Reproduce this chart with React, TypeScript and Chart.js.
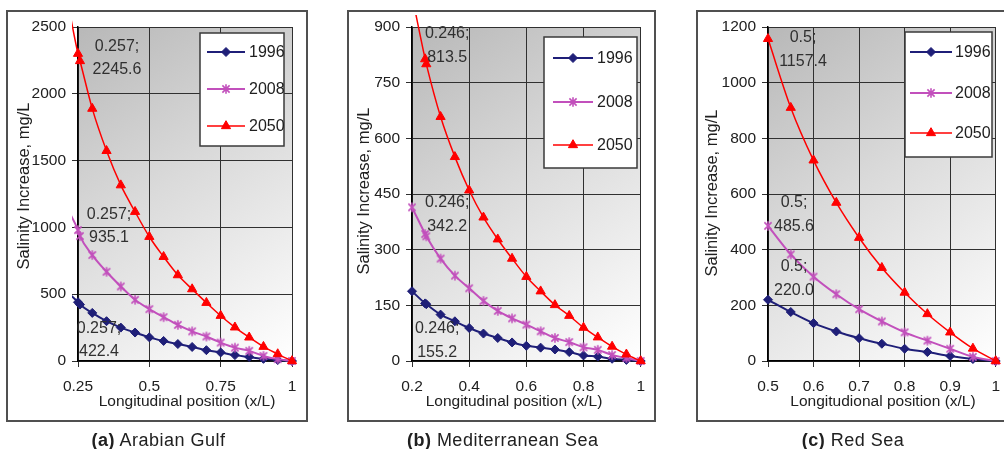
import React, { useEffect, useRef } from 'react';
import { Chart, registerables } from 'chart.js';

Chart.register(...registerables);

const FONT = "'Liberation Sans', Arial, Helvetica, sans-serif";

const seriesNames = ['1996', '2008', '2050'];
const seriesColors = ['#1f1f78', '#c250bc', '#ff0000'];
const seriesLineWidths = [2, 2, 1.5];

// ---------- (a) Arabian Gulf ----------
const xA = [0.2, 0.25, 0.257, 0.3, 0.35, 0.4, 0.45, 0.5, 0.55, 0.6, 0.65, 0.7, 0.75, 0.8, 0.85, 0.9, 0.95, 1];
const a1996 = [540, 440, 422.4, 360, 298, 250, 213, 177, 150, 127, 105, 81, 64, 44, 30, 16, 7, 0];
const a2008 = [1190, 980, 935.1, 793, 668, 558, 458, 388, 328, 270, 222, 183, 138, 100, 76, 38, 14, 0];
const a2050 = [2850, 2300, 2245.6, 1889, 1573, 1316, 1117, 930, 780, 643, 538, 436, 339, 252, 177, 107, 52, 0];
const xTicksA = [0.25, 0.5, 0.75, 1];
const yTicksA = [0, 500, 1000, 1500, 2000, 2500];

// ---------- (b) Mediterranean Sea ----------
const xB = [0.2, 0.246, 0.25, 0.3, 0.35, 0.4, 0.45, 0.5, 0.55, 0.6, 0.65, 0.7, 0.75, 0.8, 0.85, 0.9, 0.95, 1];
const b1996 = [188, 155.2, 153, 125, 107, 89, 74, 62, 50, 41, 36, 31, 24, 15, 12, 6, 3, 0];
const b2008 = [414, 342.2, 336, 276, 230, 196, 162, 135, 115, 98, 80, 62, 51, 37, 30, 16, 8, 0];
const b2050 = [985, 813.5, 800, 658, 550, 460, 387, 328, 276, 227, 188, 151, 122, 90, 64, 39, 18, 0];
const xTicksB = [0.2, 0.4, 0.6, 0.8, 1];
const yTicksB = [0, 150, 300, 450, 600, 750, 900];

// ---------- (c) Red Sea ----------
const xC = [0.5, 0.55, 0.6, 0.65, 0.7, 0.75, 0.8, 0.85, 0.9, 0.95, 1];
const c1996 = [220.0, 176, 136, 106, 82, 62, 44, 32, 18, 7, 0];
const c2008 = [485.6, 383, 303, 240, 186, 142, 103, 73, 44, 15, 0];
const c2050 = [1157.4, 910, 721, 569, 443, 335, 246, 169, 103, 45, 0];
const xTicksC = [0.5, 0.6, 0.7, 0.8, 0.9, 1];
const yTicksC = [0, 200, 400, 600, 800, 1000, 1200];

type Panel = {
  key: string;
  boxLeft: number;
  boxWidth: number;
  canvasWidth: number;
  plotLeft: number;
  plotRight: number;
  xs: number[];
  ys: number[][];
  xTicks: number[];
  yTicks: number[];
  labelIndex: number;
  labelOffsets: number[][];
  labelGap: number;
  legend: { x: number; y: number; w: number; h: number; rows: number[]; lineFrom: number; lineTo: number; textX: number };
  xTitle: string;
  xTitlePos: number[];
  yTitlePos: number[];
  captionBold: string;
  captionText: string;
  captionX: number;
};

const panels: Panel[] = [
  {
    key: 'a', boxLeft: 7, boxWidth: 300, canvasWidth: 300, plotLeft: 71, plotRight: 285,
    xs: xA, ys: [a1996, a2008, a2050], xTicks: xTicksA, yTicks: yTicksA,
    labelIndex: 2, labelOffsets: [[19, 24], [29, -21], [37, -14]], labelGap: 23,
    legend: { x: 193, y: 22, w: 84, h: 113, rows: [19, 56, 93], lineFrom: 7, lineTo: 45, textX: 49 },
    xTitle: 'Longitudinal position (x/L)', xTitlePos: [180, 391], yTitlePos: [17, 175],
    captionBold: '(a)', captionText: ' Arabian Gulf', captionX: 158.5,
  },
  {
    key: 'b', boxLeft: 348, boxWidth: 307, canvasWidth: 307, plotLeft: 64, plotRight: 295,
    xs: xB, ys: [b1996, b2008, b2050], xTicks: xTicksB, yTicks: yTicksB,
    labelIndex: 1, labelOffsets: [[12, 25], [22, -31], [22, -26]], labelGap: 24,
    legend: { x: 196, y: 26, w: 93, h: 131, rows: [21, 65, 108], lineFrom: 9, lineTo: 49, textX: 53 },
    xTitle: 'Longitudinal position (x/L)', xTitlePos: [166, 391], yTitlePos: [16, 180],
    captionBold: '(b)', captionText: ' Mediterranean Sea', captionX: 502.7,
  },
  {
    key: 'c', boxLeft: 697, boxWidth: 330, canvasWidth: 313, plotLeft: 71, plotRight: 300,
    xs: xC, ys: [c1996, c2008, c2050], xTicks: xTicksC, yTicks: yTicksC,
    labelIndex: 0, labelOffsets: [[26, -33], [26, -23], [35, -1]], labelGap: 24,
    legend: { x: 208, y: 21, w: 87, h: 125, rows: [20, 61, 101], lineFrom: 5, lineTo: 47, textX: 50 },
    xTitle: 'Longitudional position (x/L)', xTitlePos: [186, 391], yTitlePos: [15.5, 182],
    captionBold: '(c)', captionText: ' Red Sea', captionX: 853,
  },
];

const CANVAS_TOP = 11;
const CANVAS_H = 410;
const PLOT_TOP = 16;
const XAXIS_H = 60;

function makeStar(color: string, r: number, lw: number): HTMLCanvasElement {
  const s = Math.ceil(2 * r + lw + 2);
  const c = document.createElement('canvas');
  c.width = s;
  c.height = s;
  const ctx = c.getContext('2d')!;
  ctx.strokeStyle = color;
  ctx.lineWidth = lw;
  const cx = s / 2;
  const cy = s / 2;
  const d = r * 0.75;
  ctx.beginPath();
  ctx.moveTo(cx, cy - r);
  ctx.lineTo(cx, cy + r);
  ctx.moveTo(cx - d, cy - d);
  ctx.lineTo(cx + d, cy + d);
  ctx.moveTo(cx + d, cy - d);
  ctx.lineTo(cx - d, cy + d);
  ctx.stroke();
  return c;
}

function drawMarker(ctx: CanvasRenderingContext2D, i: number, x: number, y: number, star: HTMLCanvasElement) {
  ctx.save();
  ctx.fillStyle = seriesColors[i];
  ctx.strokeStyle = seriesColors[i];
  ctx.lineWidth = 1;
  if (i === 0) {
    const r = 4.5;
    ctx.beginPath();
    ctx.moveTo(x, y - r);
    ctx.lineTo(x + r, y);
    ctx.lineTo(x, y + r);
    ctx.lineTo(x - r, y);
    ctx.closePath();
    ctx.fill();
    ctx.stroke();
  } else if (i === 1) {
    ctx.drawImage(star, x - star.width / 2, y - star.height / 2);
  } else {
    const r = 5.3;
    ctx.beginPath();
    ctx.moveTo(x, y - r);
    ctx.lineTo(x + r * 0.866, y + r / 2);
    ctx.lineTo(x - r * 0.866, y + r / 2);
    ctx.closePath();
    ctx.fill();
    ctx.stroke();
  }
  ctx.restore();
}

function PanelChart({ p }: { p: Panel }) {
  const ref = useRef<HTMLCanvasElement>(null);
  useEffect(() => {
    const canvas = ref.current;
    if (!canvas) return;
    const star = makeStar(seriesColors[1], 4.8, 1.6);
    const pointStyles: any[] = ['rectRot', star, 'triangle'];
    const pointRadii = [4.5, 5, 5.3];

    const datasets: any[] = p.ys.map((ys, i) => ({
      label: seriesNames[i],
      data: p.xs.map((x, j) => ({ x, y: ys[j] })),
      borderColor: seriesColors[i],
      backgroundColor: seriesColors[i],
      borderWidth: seriesLineWidths[i],
      pointStyle: pointStyles[i],
      pointRadius: pointRadii[i],
      pointBorderWidth: 1,
      pointBackgroundColor: seriesColors[i],
      pointBorderColor: seriesColors[i],
      cubicInterpolationMode: 'monotone',
      fill: false,
      clip: { left: 6, top: 12, right: 10, bottom: 10 },
      order: 3 - i,
    }));

    const bgPlugin = {
      id: 'bgGradient',
      beforeDraw(chart: any) {
        const { ctx, chartArea: a } = chart;
        const g = ctx.createLinearGradient(a.left, a.top, a.right, a.bottom);
        g.addColorStop(0, '#b8b8b8');
        g.addColorStop(0.45, '#dadada');
        g.addColorStop(1, '#ffffff');
        ctx.save();
        ctx.fillStyle = g;
        ctx.fillRect(a.left, a.top, a.right - a.left, a.bottom - a.top);
        ctx.restore();
      },
    };

    const labelPlugin = {
      id: 'pointLabels',
      afterDatasetsDraw(chart: any) {
        const ctx = chart.ctx;
        ctx.save();
        ctx.font = `16px ${FONT}`;
        ctx.fillStyle = '#303030';
        ctx.textAlign = 'center';
        ctx.textBaseline = 'middle';
        p.ys.forEach((ys, i) => {
          const pt = chart.getDatasetMeta(i).data[p.labelIndex];
          const [dx, dy] = p.labelOffsets[i];
          const xv = p.xs[p.labelIndex];
          const yv = ys[p.labelIndex];
          ctx.fillText(`${xv};`, pt.x + dx, pt.y + dy);
          ctx.fillText(yv.toFixed(1), pt.x + dx, pt.y + dy + p.labelGap);
        });
        ctx.restore();
      },
    };

    const decoPlugin = {
      id: 'deco',
      afterDraw(chart: any) {
        const ctx = chart.ctx;
        const L = p.legend;
        ctx.save();
        // legend
        ctx.fillStyle = '#ffffff';
        ctx.fillRect(L.x, L.y, L.w, L.h);
        ctx.strokeStyle = '#3a3a3a';
        ctx.lineWidth = 1.5;
        ctx.strokeRect(L.x, L.y, L.w, L.h);
        ctx.font = `16px ${FONT}`;
        ctx.textAlign = 'left';
        ctx.textBaseline = 'middle';
        L.rows.forEach((ry, i) => {
          const y = L.y + ry;
          ctx.strokeStyle = seriesColors[i];
          ctx.lineWidth = seriesLineWidths[i];
          ctx.beginPath();
          ctx.moveTo(L.x + L.lineFrom, y);
          ctx.lineTo(L.x + L.lineTo, y);
          ctx.stroke();
          drawMarker(ctx, i, L.x + (L.lineFrom + L.lineTo) / 2, y, star);
          ctx.fillStyle = '#202020';
          ctx.fillText(seriesNames[i], L.x + L.textX, y + 1);
        });
        // axis titles
        ctx.fillStyle = '#202020';
        ctx.font = `15.5px ${FONT}`;
        ctx.textAlign = 'center';
        ctx.textBaseline = 'middle';
        ctx.fillText(p.xTitle, p.xTitlePos[0], p.xTitlePos[1]);
        ctx.translate(p.yTitlePos[0], p.yTitlePos[1]);
        ctx.rotate(-Math.PI / 2);
        ctx.font = `16.5px ${FONT}`;
        ctx.fillText('Salinity Increase, mg/L', 0, 0);
        ctx.restore();
      },
    };

    const gridCfg = { color: '#303030', lineWidth: 1, tickLength: 6, drawTicks: true };
    const borderCfg = { display: true, color: '#000000', width: 1.5 };
    const tickFont = { size: 15.5, family: FONT };

    const chart = new Chart(canvas, {
      type: 'line',
      data: { datasets },
      options: {
        responsive: false,
        animation: false,
        events: [],
        layout: { padding: { left: 0, right: p.canvasWidth - p.plotRight, top: PLOT_TOP, bottom: 0 } },
        plugins: { legend: { display: false }, tooltip: { enabled: false }, title: { display: false } },
        scales: {
          x: {
            type: 'linear',
            min: p.xTicks[0],
            max: p.xTicks[p.xTicks.length - 1],
            afterBuildTicks: (s: any) => { s.ticks = p.xTicks.map((v) => ({ value: v })); },
            afterFit: (s: any) => { s.height = XAXIS_H; },
            grid: gridCfg,
            border: borderCfg,
            ticks: { padding: 10, color: '#202020', font: tickFont, autoSkip: false, maxRotation: 0, callback: (v: any) => String(v) },
          },
          y: {
            type: 'linear',
            min: p.yTicks[0],
            max: p.yTicks[p.yTicks.length - 1],
            afterBuildTicks: (s: any) => { s.ticks = p.yTicks.map((v) => ({ value: v })); },
            afterFit: (s: any) => { s.width = p.plotLeft; },
            grid: gridCfg,
            border: borderCfg,
            ticks: { padding: 6, color: '#202020', font: tickFont, autoSkip: false, callback: (v: any) => String(v) },
          },
        },
      } as any,
      plugins: [bgPlugin, labelPlugin, decoPlugin],
    });
    return () => chart.destroy();
  }, [p]);

  return (
    <>
      <canvas
        ref={ref}
        width={p.canvasWidth}
        height={CANVAS_H}
        style={{ position: 'absolute', left: p.boxLeft, top: CANVAS_TOP, width: p.canvasWidth, height: CANVAS_H }}
      />
      <div
        style={{
          position: 'absolute',
          left: p.boxLeft - 1,
          top: CANVAS_TOP - 1,
          width: p.boxWidth + 2,
          height: CANVAS_H + 2,
          border: '2px solid #505050',
          boxSizing: 'border-box',
          pointerEvents: 'none',
        }}
      />
      <div
        style={{
          position: 'absolute',
          left: p.captionX,
          top: 430,
          transform: 'translateX(-50%)',
          whiteSpace: 'nowrap',
          font: `18px ${FONT}`,
          letterSpacing: '0.5px',
          lineHeight: '20px',
          color: '#202020',
        }}
      >
        <b>{p.captionBold}</b>
        {p.captionText}
      </div>
    </>
  );
}

export default function App() {
  return (
    <div
      style={{
        position: 'fixed',
        left: 0,
        top: 0,
        width: 1004,
        height: 449,
        overflow: 'hidden',
        background: '#ffffff',
      }}
    >
      {panels.map((p) => (
        <PanelChart key={p.key} p={p} />
      ))}
    </div>
  );
}
